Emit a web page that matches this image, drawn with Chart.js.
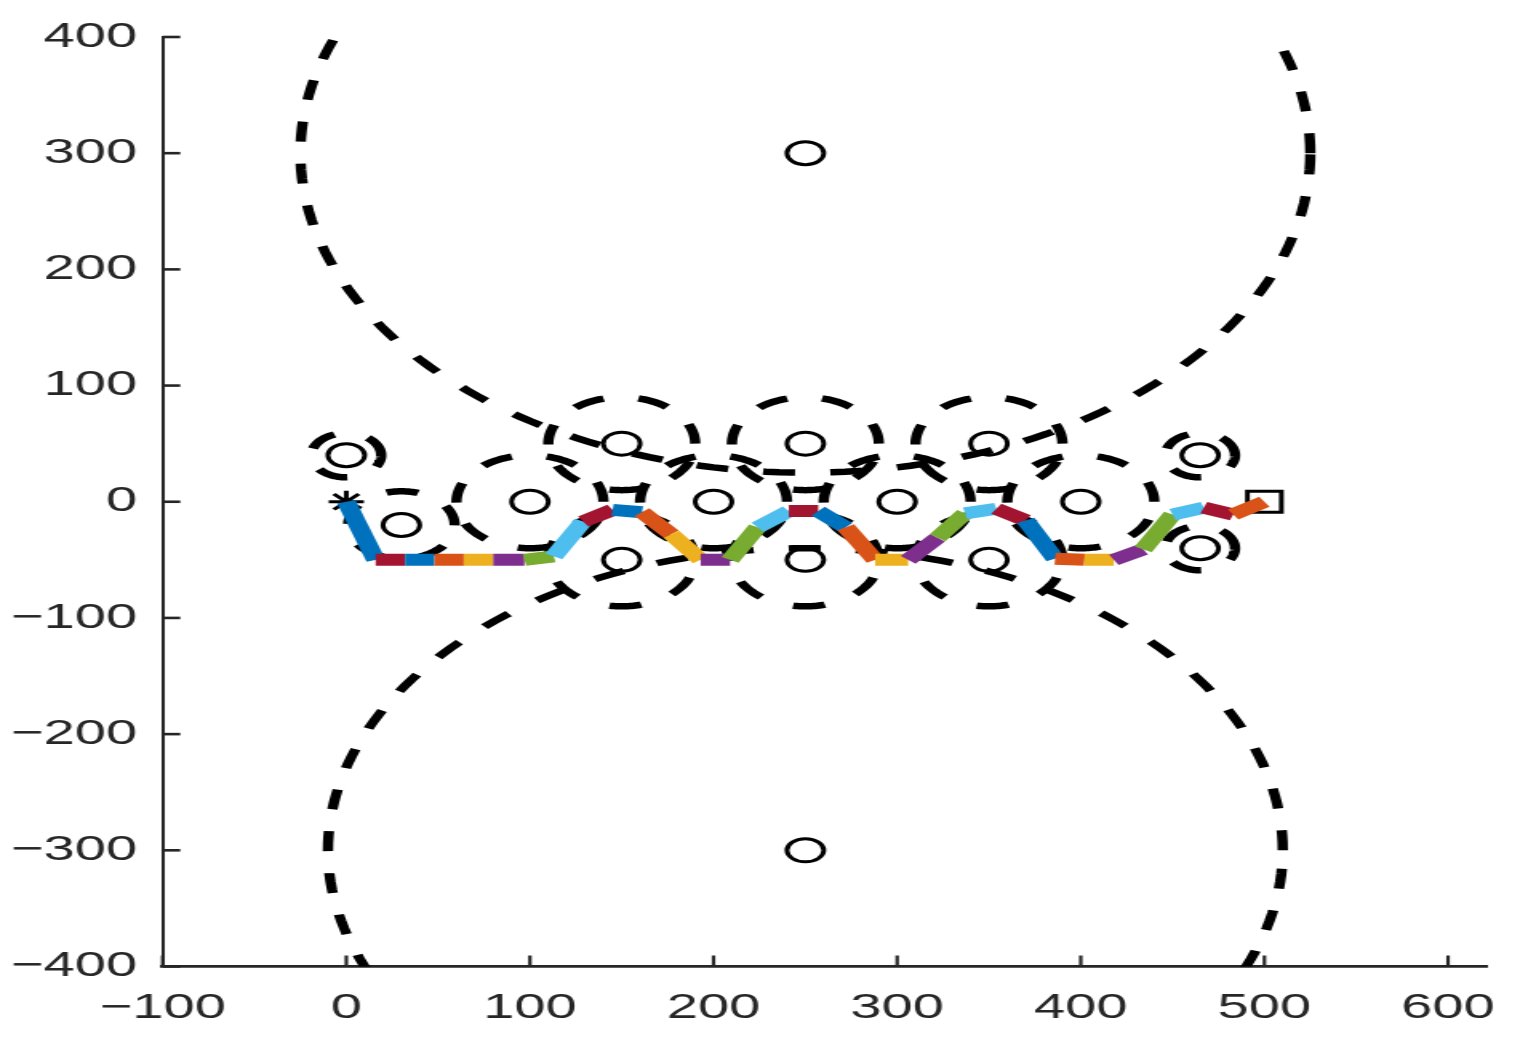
<!DOCTYPE html>
<html>
<head>
<meta charset="utf-8">
<title>Path through obstacles</title>
<script src="https://cdn.jsdelivr.net/npm/chart.js@4.4.1/dist/chart.umd.min.js"></script>
<style>
  html, body { margin: 0; padding: 0; background: #fff; overflow: hidden; }
  #wrap { width: 956px; height: 1056px; transform: scaleX(1.6); transform-origin: 0 0; }
</style>
</head>
<body>
<div id="wrap"><canvas id="chart" width="956" height="1056"></canvas></div>
<script>
// ---- Data ----
// planned path (vertices), start at '*', end at square
const PATH_X = [0, 16, 32, 48, 64, 80, 97, 113, 129, 145, 161, 177, 193, 209, 224, 241,
                257, 272, 288, 306, 322, 337, 354, 370, 386, 402, 418, 434, 450, 467, 483, 500];
const PATH_Y = [0, -50, -50, -50, -50, -50, -50, -47, -17, -7, -9, -28, -50, -50, -22, -8,
                -8, -22, -50, -50, -31, -10, -6, -16, -49, -50, -50, -41, -11, -5, -11, 0];
// one colour per path segment (MATLAB default colour order)
const SEGMENT_COLORS = [
  "blue", "darkred", "blue", "orange", "yellow", "purple", "green", "lightblue",
  "darkred", "blue", "orange", "yellow", "purple", "green", "lightblue", "darkred",
  "blue", "orange", "yellow", "purple", "green", "lightblue", "darkred", "blue",
  "orange", "yellow", "purple", "green", "lightblue", "darkred", "orange",
];

// obstacles: centre and radius
const OBST_X = [0, 30, 100, 150, 250, 350, 200, 300, 400, 150, 250, 350, 465, 465, 250, 250];
const OBST_Y = [40, -20, 0, 50, 50, 50, 0, 0, 0, -50, -50, -50, 40, -40, 300, -300];
const OBST_R = [19, 29, 40, 40, 40, 40, 40, 40, 40, 40, 40, 40, 19, 19, 275, 260];

const START = { x: 0, y: 0 };
const GOAL = { x: 500, y: 0 };

const X_TICKS = [-100, 0, 100, 200, 300, 400, 500, 600];
const Y_TICKS = [-400, -300, -200, -100, 0, 100, 200, 300, 400];

// ---- Styles ----
const PALETTE = {
  blue: "#0072BD",
  orange: "#D95319",
  yellow: "#EDB120",
  purple: "#7E2F8E",
  green: "#77AC30",
  lightblue: "#4DBEEE",
  darkred: "#A2142F",
};
const AXIS_COLOR = "#262626";
const FONT = { family: "'Liberation Sans', Arial, Helvetica, sans-serif", size: 35 };

const fmt = v => (v < 0 ? "\u2212" + Math.abs(v) : String(v));

// outline of an obstacle as points for the line
function circlePoints(cx, cy, r) {
  const pts = [];
  const n = 240;
  for (let i = 0; i <= n; i++) {
    const t = (i / n) * Math.PI * 2;
    pts.push({ x: cx + r * Math.cos(t), y: cy + r * Math.sin(t) });
  }
  return pts;
}

// inward tick marks, MATLAB style
const inwardTicks = {
  id: "inwardTicks",
  afterDraw(chart) {
    const { ctx, chartArea, scales } = chart;
    const len = 11;
    ctx.save();
    ctx.strokeStyle = AXIS_COLOR;
    ctx.lineWidth = 2.2;
    for (const v of X_TICKS) {
      const px = scales.x.getPixelForValue(v);
      ctx.beginPath();
      ctx.moveTo(px, chartArea.bottom);
      ctx.lineTo(px, chartArea.bottom - len);
      ctx.stroke();
    }
    ctx.lineWidth = 2.6;
    for (const v of Y_TICKS) {
      const py = scales.y.getPixelForValue(v);
      ctx.beginPath();
      ctx.moveTo(chartArea.left, py);
      ctx.lineTo(chartArea.left + len, py);
      ctx.stroke();
    }
    ctx.restore();
  },
};

// ---- Datasets ----
const pathData = PATH_X.map((x, i) => ({ x, y: PATH_Y[i] }));

const datasets = [
  {
    label: "path",
    data: pathData,
    showLine: true,
    borderWidth: 12,
    borderColor: PALETTE[SEGMENT_COLORS[0]],
    borderCapStyle: "butt",
    borderJoinStyle: "miter",
    pointRadius: 0,
    segment: { borderColor: c => PALETTE[SEGMENT_COLORS[c.p0DataIndex]] },
    order: 0,
  },
  {
    label: "start",
    data: [START],
    pointStyle: "star",
    pointRadius: 11,
    pointBorderWidth: 3,
    borderColor: "#000",
    backgroundColor: "rgba(0,0,0,0)",
    order: 1,
  },
  {
    label: "goal",
    data: [GOAL],
    pointStyle: "rect",
    pointRadius: 15,
    pointBorderWidth: 3,
    borderColor: "#000",
    backgroundColor: "rgba(0,0,0,0)",
    order: 1,
  },
  {
    label: "centres",
    data: OBST_X.map((x, i) => ({ x, y: OBST_Y[i] })),
    pointStyle: "circle",
    pointRadius: 11.5,
    pointBorderWidth: 3,
    borderColor: "#000",
    backgroundColor: "rgba(0,0,0,0)",
    order: 1,
  },
  ...OBST_X.map((x, i) => ({
    label: "obstacle " + (i + 1),
    data: circlePoints(x, OBST_Y[i], OBST_R[i]),
    showLine: true,
    borderColor: "#000",
    borderWidth: 6.5,
    borderDash: [20, 22],
    borderCapStyle: "butt",
    pointRadius: 0,
    order: 2,
  })),
];

new Chart(document.getElementById("chart"), {
  type: "scatter",
  data: { datasets },
  options: {
    responsive: false,
    animation: false,
    devicePixelRatio: 1,
    layout: { padding: { top: 33, right: 26.2, left: 0, bottom: 0 } },
    plugins: { legend: { display: false }, tooltip: { enabled: false } },
    scales: {
      x: {
        type: "linear",
        min: -100,
        max: 621,
        afterFit: s => { s.height = 89.5; },
        afterBuildTicks: s => { s.ticks = X_TICKS.map(value => ({ value })); },
        grid: { display: false, drawTicks: false },
        border: { display: true, color: AXIS_COLOR, width: 2.7 },
        ticks: {
          font: FONT,
          color: AXIS_COLOR,
          padding: 21,
          maxRotation: 0,
          autoSkip: false,
          callback: v => fmt(v),
        },
      },
      y: {
        type: "linear",
        min: -400,
        max: 400,
        afterFit: s => { s.width = 101.7; },
        afterBuildTicks: s => { s.ticks = Y_TICKS.map(value => ({ value })); },
        grid: { display: false, drawTicks: false },
        border: { display: true, color: AXIS_COLOR, width: 2 },
        ticks: {
          font: FONT,
          color: AXIS_COLOR,
          padding: 16,
          autoSkip: false,
          callback: v => fmt(v),
        },
      },
    },
  },
  plugins: [inwardTicks],
});
</script>
</body>
</html>
